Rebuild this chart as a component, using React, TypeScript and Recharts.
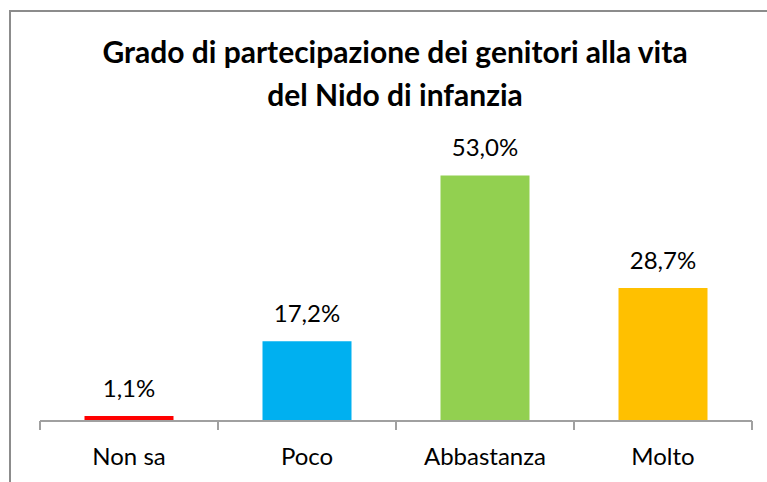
import React from "react";
import { BarChart, Bar, XAxis, YAxis, Cell, LabelList } from "recharts";

const categories = ["Non sa", "Poco", "Abbastanza", "Molto"];
const values = [1.1, 17.2, 53.0, 28.7];
const colors = ["#FF0000", "#00B0F0", "#92D050", "#FFC000"];
const titleLines = ["Grado di partecipazione dei genitori alla vita", "del Nido di infanzia"];

const data = categories.map((c, i) => ({ name: c, value: values[i] }));

const fmt = (v: number) => v.toFixed(1).replace(".", ",") + "%";

const AXIS_GREY = "#a0a0a0";

function CategoryTick(props: any) {
  const { x, y, payload, index, visibleTicksCount } = props;
  const off = payload && payload.offset ? payload.offset : 0;
  const isLast = index === visibleTicksCount - 1;
  return (
    <g>
      <line x1={x - off} x2={x - off} y1={y} y2={y + 9} stroke={AXIS_GREY} strokeWidth={2} />
      {isLast && <line x1={x + off} x2={x + off} y1={y} y2={y + 9} stroke={AXIS_GREY} strokeWidth={2} />}
      <text x={x} y={y + 44} textAnchor="middle" fill="#000" fontSize={24} fontFamily="Lato, sans-serif">
        {payload.value}
      </text>
    </g>
  );
}

export default function App() {
  return (
    <div style={{ position: "absolute", left: 0, top: 0, width: 767, height: 482, overflow: "hidden", background: "#fff", fontFamily: "Lato, sans-serif" }}>
      <div style={{ position: "absolute", left: 9, top: 10, width: 900, height: 600, borderLeft: "2px solid #8c8c8c", borderTop: "2px solid #8c8c8c" }} />
      <div style={{ position: "absolute", left: 0, top: 30, width: 790, textAlign: "center", fontWeight: 700, fontSize: 30, lineHeight: "43px", color: "#000" }}>
        {titleLines.map((t) => (
          <div key={t}>{t}</div>
        ))}
      </div>
      <div style={{ position: "absolute", left: 0, top: 0 }}>
        <BarChart width={767} height={482} data={data} margin={{ top: 143, right: 15, bottom: 0, left: 40 }} barCategoryGap="25%">
          <XAxis dataKey="name" height={61} axisLine={{ stroke: AXIS_GREY, strokeWidth: 2 }} tickLine={false} tickSize={0} tickMargin={0} tick={<CategoryTick />} interval={0} />
          <YAxis hide domain={[0, 60]} width={0} />
          <Bar dataKey="value" isAnimationActive={false}>
            {data.map((d, i) => (
              <Cell key={d.name} fill={colors[i]} />
            ))}
            <LabelList dataKey="value" position="top" offset={19} formatter={(v: any) => fmt(Number(v))} style={{ fill: "#000", fontSize: 24, fontFamily: "Lato, sans-serif" }} />
          </Bar>
        </BarChart>
      </div>
    </div>
  );
}
